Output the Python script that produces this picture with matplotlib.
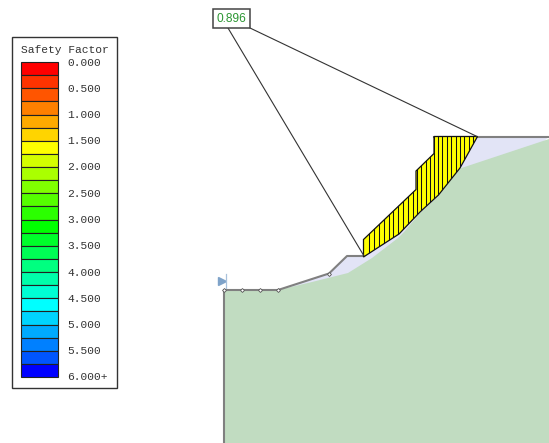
import numpy as np
import matplotlib.pyplot as plt
from matplotlib.patches import Polygon, Rectangle

# legend
band_colors = ['#ff0000', '#ff3300', '#ff5500', '#ff8000', '#ffaa00', '#ffd400',
               '#ffff00', '#d4ff00', '#aaff00', '#80ff00', '#55ff00', '#2bff00',
               '#00ff00', '#00ff2b', '#00ff55', '#00ff80', '#00ffaa', '#00ffd4',
               '#00ffff', '#00d4ff', '#00aaff', '#0080ff', '#0055ff', '#0000ff']
legend_labels = ['0.000', '0.500', '1.000', '1.500', '2.000', '2.500', '3.000',
                 '3.500', '4.000', '4.500', '5.000', '5.500', '6.000+']
safety_factor = '0.896'

# slope geometry in pixels
ground_x = [224, 224, 278, 329, 347, 364, 477, 549]
ground_y = [443, 290, 290, 273.5, 256, 256, 136.5, 136.5]
ground_line_x = [224, 224, 278, 329, 347, 364]
ground_line_y = [443, 290, 290, 273.5, 256, 256]
top_line_x = [434, 549]
top_line_y = [136.5, 136.5]
green_x = [224, 224, 278, 312, 348, 372, 398, 404, 420, 438.5, 460, 549, 549]
green_y = [443, 290, 290, 282, 273, 258, 238, 232, 213, 196, 168.5, 139, 443]
vertex_x = [224, 242, 260, 278, 329]
vertex_y = [290, 290, 290, 290, 273.5]

# slip mass
mass_x = [363.5, 416, 416, 434, 434, 477.5, 460, 438.5, 420, 399, 375, 363.5]
mass_y = [239.5, 189.5, 171, 153.5, 136.5, 136.5, 168, 195, 212, 234, 249.5, 257]
slice_x = [368.5, 373.5, 378.5, 383.5, 388.5, 393, 398, 402.5, 407.5, 412.5, 416.5, 421,
           425.7, 430, 434, 437.7, 442.3, 446.7, 451, 455.7, 460, 464.3, 469, 473.3]

# radius lines to the centre box
left_x, left_y = [228, 364], [28, 256]
right_x, right_y = [250, 477], [28, 136.5]

fig = plt.figure(figsize=(5.49, 4.43), dpi=100)
ax = fig.add_axes([0, 0, 1, 1])
ax.set_xlim(0, 549)
ax.set_ylim(443, 0)
ax.axis('off')

ax.add_patch(Polygon(list(zip(ground_x, ground_y)), fc='#e2e4f6', ec='none', zorder=1))
ax.add_patch(Polygon(list(zip(green_x, green_y)), fc='#c1dcc1', ec='none', zorder=2))
ax.plot(ground_line_x, ground_line_y, color='#808080', lw=1.5, zorder=3)
ax.plot(top_line_x, top_line_y, color='#808080', lw=1.5, zorder=3)
ax.plot(vertex_x, vertex_y, ls='none', marker='D', ms=2, mfc='white', mec='#555555',
        mew=0.6, zorder=4)

# slip mass with slices
mass = Polygon(list(zip(mass_x, mass_y)), fc='#ffff00', ec='#111111', lw=0.9, zorder=5)
ax.add_patch(mass)
slices = ax.vlines(slice_x, 130, 260, color='#111111', lw=0.75, zorder=6)
slices.set_clip_path(mass)

ax.plot(left_x, left_y, color='#333333', lw=0.8, zorder=7)
ax.plot(right_x, right_y, color='#333333', lw=0.8, zorder=7)
ax.add_patch(Rectangle((213, 9), 36.5, 19, fc='white', ec='#444444', lw=1.1, zorder=8))
ax.text(231.5, 18.5, safety_factor, color='#2b9632', fontsize=8.6, family='Liberation Sans',
        ha='center', va='center', zorder=9)

# water level marker
ax.plot([221.5], [281], marker='>', ms=6, color='#7fa3c9', ls='none', zorder=4)
ax.plot([225.5, 225.5], [274, 288], color='#a9c2dc', lw=0.9, zorder=4)

# legend box
ax.add_patch(Rectangle((12, 37), 105, 351, fc='white', ec='#333333', lw=1.0, zorder=1))
ax.text(65, 49.5, 'Safety Factor', family='Liberation Mono', fontsize=8.1, color='#333333',
        ha='center', va='center', zorder=3)
edges = np.linspace(62, 377, len(band_colors) + 1)
for i, c in enumerate(band_colors):
    ax.add_patch(Rectangle((21, edges[i]), 37, edges[i + 1] - edges[i], fc=c, ec='#222222',
                           lw=0.8, zorder=2))
for i, lab in enumerate(legend_labels):
    ax.text(67, edges[i * 2] + 0.5, lab, family='Liberation Mono', fontsize=8.1, color='#333333',
            ha='left', va='center', zorder=3)

fig.savefig('out.png', dpi=100)
